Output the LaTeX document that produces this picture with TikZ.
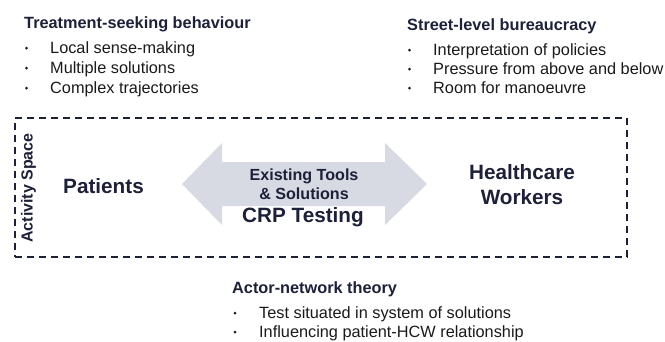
\documentclass[tikz,border=0pt]{standalone}
\usepackage{fontspec}
\setmainfont{Liberation Sans}
\usetikzlibrary{fit}

\definecolor{navy}{HTML}{1C2039}
\definecolor{ink}{HTML}{1A1A1A}
\definecolor{arrowgrey}{HTML}{D7DAE2}

\tikzset{
    head/.style={anchor=base west, inner sep=0, text=navy,
        font=\bfseries\fontsize{16.3}{19}\selectfont},
    item/.style={anchor=base west, inner sep=0, text=ink,
        font=\fontsize{16.3}{19}\selectfont},
    dot/.style={circle, fill=ink, inner sep=0, minimum size=3pt},
    actor/.style={inner sep=0, text=navy, align=center,
        font=\bfseries\fontsize{20.7}{25}\selectfont},
}

\begin{document}
\begin{tikzpicture}[x=1pt, y=-1pt]
    \useasboundingbox (0,0) rectangle (665,341);

    \node[head] (tsb) at (24,28) {Treatment-seeking behaviour};
    \node[dot] (d1) at (26.5,48) {};
    \node[dot] (d2) at (26.5,68) {};
    \node[dot] (d3) at (26.5,88) {};
    \node[item] (tsb1) at (50,53) {Local sense-making};
    \node[item] (tsb2) at (50,73) {Multiple solutions};
    \node[item] (tsb3) at (50,93) {Complex trajectories};

    \node[head] (slb) at (407,30) {Street-level bureaucracy};
    \node[dot] (d4) at (409.5,50) {};
    \node[dot] (d5) at (409.5,69) {};
    \node[dot] (d6) at (409.5,88) {};
    \node[item] (slb1) at (433,55) {Interpretation of policies};
    \node[item] (slb2) at (433,74) {Pressure from above and below};
    \node[item] (slb3) at (433,93) {Room for manoeuvre};

    \node[draw=navy, line width=1.8pt, dash pattern=on 7pt off 5pt, inner sep=0,
        fit={(15,118) (627,257)}] (space) {};
    \node[actor, rotate=90, font=\bfseries\fontsize{16}{19}\selectfont] (as) at (28.5,188) {Activity Space};

    \fill[arrowgrey] (182,184) -- (222,143) -- (222,162) -- (385,162) -- (385,143)
        -- (427,184) -- (385,225) -- (385,206) -- (222,206) -- (222,225) -- cycle;

    \node[actor] (pat) at (103.5,186) {Patients};
    \node[actor] (hcw) at (522,184.5) {Healthcare\\Workers};
    \node[actor, font=\bfseries\fontsize{16.1}{19}\selectfont] (tools) at (304,184.5) {Existing Tools\\\& Solutions};
    \node[actor, anchor=base] (crp) at (303,222.5) {CRP Testing};

    \node[head] (ant) at (232,293) {Actor-network theory};
    \node[dot] (d7) at (235,313) {};
    \node[dot] (d8) at (235,332) {};
    \node[item] (ant1) at (259,318) {Test situated in system of solutions};
    \node[item] (ant2) at (259,337) {Influencing patient-HCW relationship};
\end{tikzpicture}
\end{document}
